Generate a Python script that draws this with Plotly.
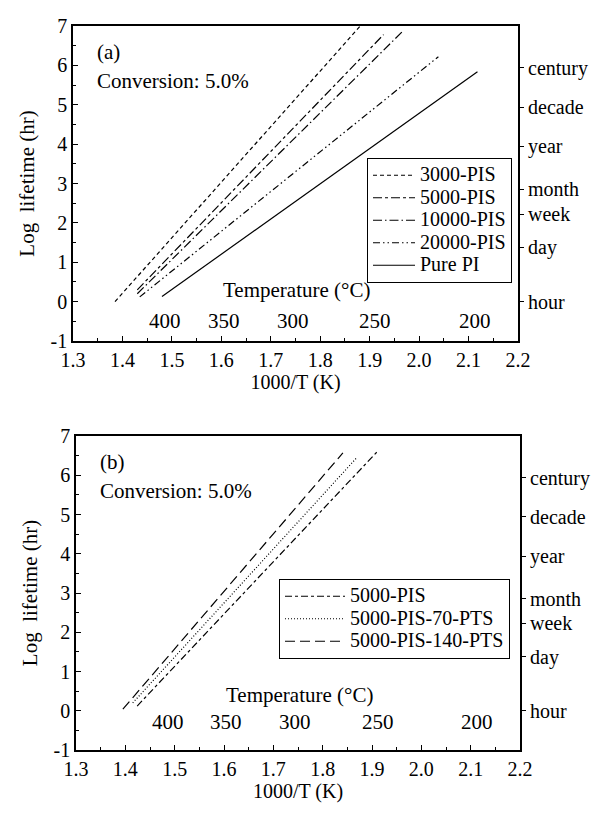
import math
import plotly.graph_objects as go

# ---------------- data ----------------
# panel (a) lines: [x_start, x_end], [y_start, y_end]
a_names = ["3000-PIS", "5000-PIS", "10000-PIS", "20000-PIS", "Pure PI"]
a_x = [[1.385, 1.881], [1.43, 1.928], [1.43, 1.968], [1.435, 2.039], [1.48, 2.118]]
a_y = [[0.0, 7.0], [0.3, 6.78], [0.2, 6.88], [0.12, 6.22], [0.13, 5.84]]

# panel (b) lines
b_names = ["5000-PIS", "5000-PIS-70-PTS", "5000-PIS-140-PTS"]
b_x = [[1.424, 1.912], [1.415, 1.870], [1.395, 1.841]]
b_y = [[0.12, 6.62], [0.2, 6.46], [0.04, 6.57]]

x_ticks = [1.3, 1.4, 1.5, 1.6, 1.7, 1.8, 1.9, 2.0, 2.1, 2.2]
y_ticks = [-1, 0, 1, 2, 3, 4, 5, 6, 7]
temps_c = [400, 350, 300, 250, 200]
time_labels = ["hour", "day", "week", "month", "year", "decade", "century"]
time_hours = [1, 24, 168, 720, 8760, 87600, 876000]

# ---------------- styles ----------------
FONT = "Liberation Serif"
FS = 20
a_dash = ["4px,3px", "9px,3px,3px,3px", "9px,3px,1.5px,3px",
          "7px,3px,1.5px,3px,1.5px,3px", "solid"]
b_dash = ["7px,3px,3px,3px", "1px,2px", "10px,5px"]

W, H = 592, 817
def px_x(p): return p / W
def px_y(p): return 1 - p / H

def leg_name(n):
    return f'<span style="font-size:{FS}px">{n}</span>'

fig = go.Figure()
for n, xs, ys, d in zip(a_names, a_x, a_y, a_dash):
    fig.add_trace(go.Scatter(x=xs, y=ys, mode="lines", name=leg_name(n),
                             line=dict(color="black", width=1.2, dash=d),
                             xaxis="x", yaxis="y", legend="legend"))
for n, xs, ys, d in zip(b_names, b_x, b_y, b_dash):
    fig.add_trace(go.Scatter(x=xs, y=ys, mode="lines", name=leg_name(n),
                             line=dict(color="black", width=1.2, dash=d),
                             xaxis="x2", yaxis="y2", legend="legend2"))

tick_font = dict(family=FONT, size=FS, color="black")
common_x = dict(range=[1.3, 2.2], tickvals=x_ticks,
                ticktext=[f"{v:.1f}" for v in x_ticks],
                ticks="inside", ticklen=5, tickwidth=1, tickcolor="black",
                minor=dict(dtick=0.05, tick0=1.3, ticks="inside", ticklen=3, tickcolor="black"),
                showline=True, linecolor="black", linewidth=1.5, mirror=True,
                showgrid=False, zeroline=False, tickfont=tick_font,
                title=dict(text="1000/T (K)", font=tick_font, standoff=2),
                automargin=False)
common_y = dict(range=[-1, 7], tickvals=y_ticks, ticktext=[str(v) for v in y_ticks],
                ticks="inside", ticklen=5, tickwidth=1, tickcolor="black",
                minor=dict(dtick=0.5, tick0=0, ticks="inside", ticklen=3, tickcolor="black"),
                showline=True, linecolor="black", linewidth=1.5, mirror=True,
                showgrid=False, zeroline=False, tickfont=tick_font,
                title=dict(text="Log  lifetime (hr)", font=dict(family=FONT, size=21, color="black"),
                           standoff=10),
                automargin=False)
right_y = dict(range=[-1, 7], tickvals=[math.log10(h) for h in time_hours],
               ticktext=time_labels, ticks="outside", ticklen=5, tickcolor="black",
               side="right", showgrid=False, zeroline=False, showline=False,
               tickfont=tick_font, automargin=False)

dom_a_x = [px_x(73), px_x(518)]
dom_a_y = [px_y(341), px_y(26)]
dom_b_x = [px_x(76), px_x(520)]
dom_b_y = [px_y(750), px_y(436)]

leg_common = dict(xanchor="right", yanchor="top",
                  bordercolor="black", borderwidth=1, bgcolor="white",
                  font=dict(family=FONT, size=15, color="black"), tracegroupgap=0)

fig.update_layout(
    width=W, height=H, margin=dict(l=0, r=0, t=0, b=0),
    paper_bgcolor="white", plot_bgcolor="white",
    font=dict(family=FONT, color="black"),
    xaxis=dict(common_x, domain=dom_a_x, anchor="y"),
    yaxis=dict(common_y, domain=dom_a_y, anchor="x"),
    yaxis3=dict(right_y, overlaying="y", anchor="x"),
    xaxis2=dict(common_x, domain=dom_b_x, anchor="y2"),
    yaxis2=dict(common_y, domain=dom_b_y, anchor="x2"),
    yaxis4=dict(right_y, overlaying="y2", anchor="x2"),
    legend=dict(leg_common, x=px_x(512), y=px_y(158), itemwidth=42),
    legend2=dict(leg_common, x=px_x(510), y=px_y(579), itemwidth=60),
    showlegend=True,
)

# dummy traces so the right-side axes render
fig.add_trace(go.Scatter(x=[None], y=[None], xaxis="x", yaxis="y3", showlegend=False))
fig.add_trace(go.Scatter(x=[None], y=[None], xaxis="x2", yaxis="y4", showlegend=False))

ann_font = dict(family=FONT, size=21, color="black")
anns = []
for xr, yr, ty, tly in [("x", "y", -0.5, 0.3), ("x2", "y2", -0.28, 0.4)]:
    for t in temps_c:
        anns.append(dict(x=1000 / (t + 273.15), y=ty, xref=xr, yref=yr, text=str(t),
                         showarrow=False, font=ann_font))
    anns.append(dict(x=1.753, y=tly, xref=xr, yref=yr, text="Temperature (°C)",
                     showarrow=False, font=ann_font))
anns.append(dict(x=1.345, y=6.35, xref="x", yref="y", text="(a)", xanchor="left",
                 showarrow=False, font=ann_font))
anns.append(dict(x=1.345, y=5.6, xref="x", yref="y", text="Conversion: 5.0%", xanchor="left",
                 showarrow=False, font=ann_font))
anns.append(dict(x=1.345, y=6.35, xref="x2", yref="y2", text="(b)", xanchor="left",
                 showarrow=False, font=ann_font))
anns.append(dict(x=1.345, y=5.6, xref="x2", yref="y2", text="Conversion: 5.0%", xanchor="left",
                 showarrow=False, font=ann_font))
fig.update_layout(annotations=anns)

fig.write_html("out.html")
